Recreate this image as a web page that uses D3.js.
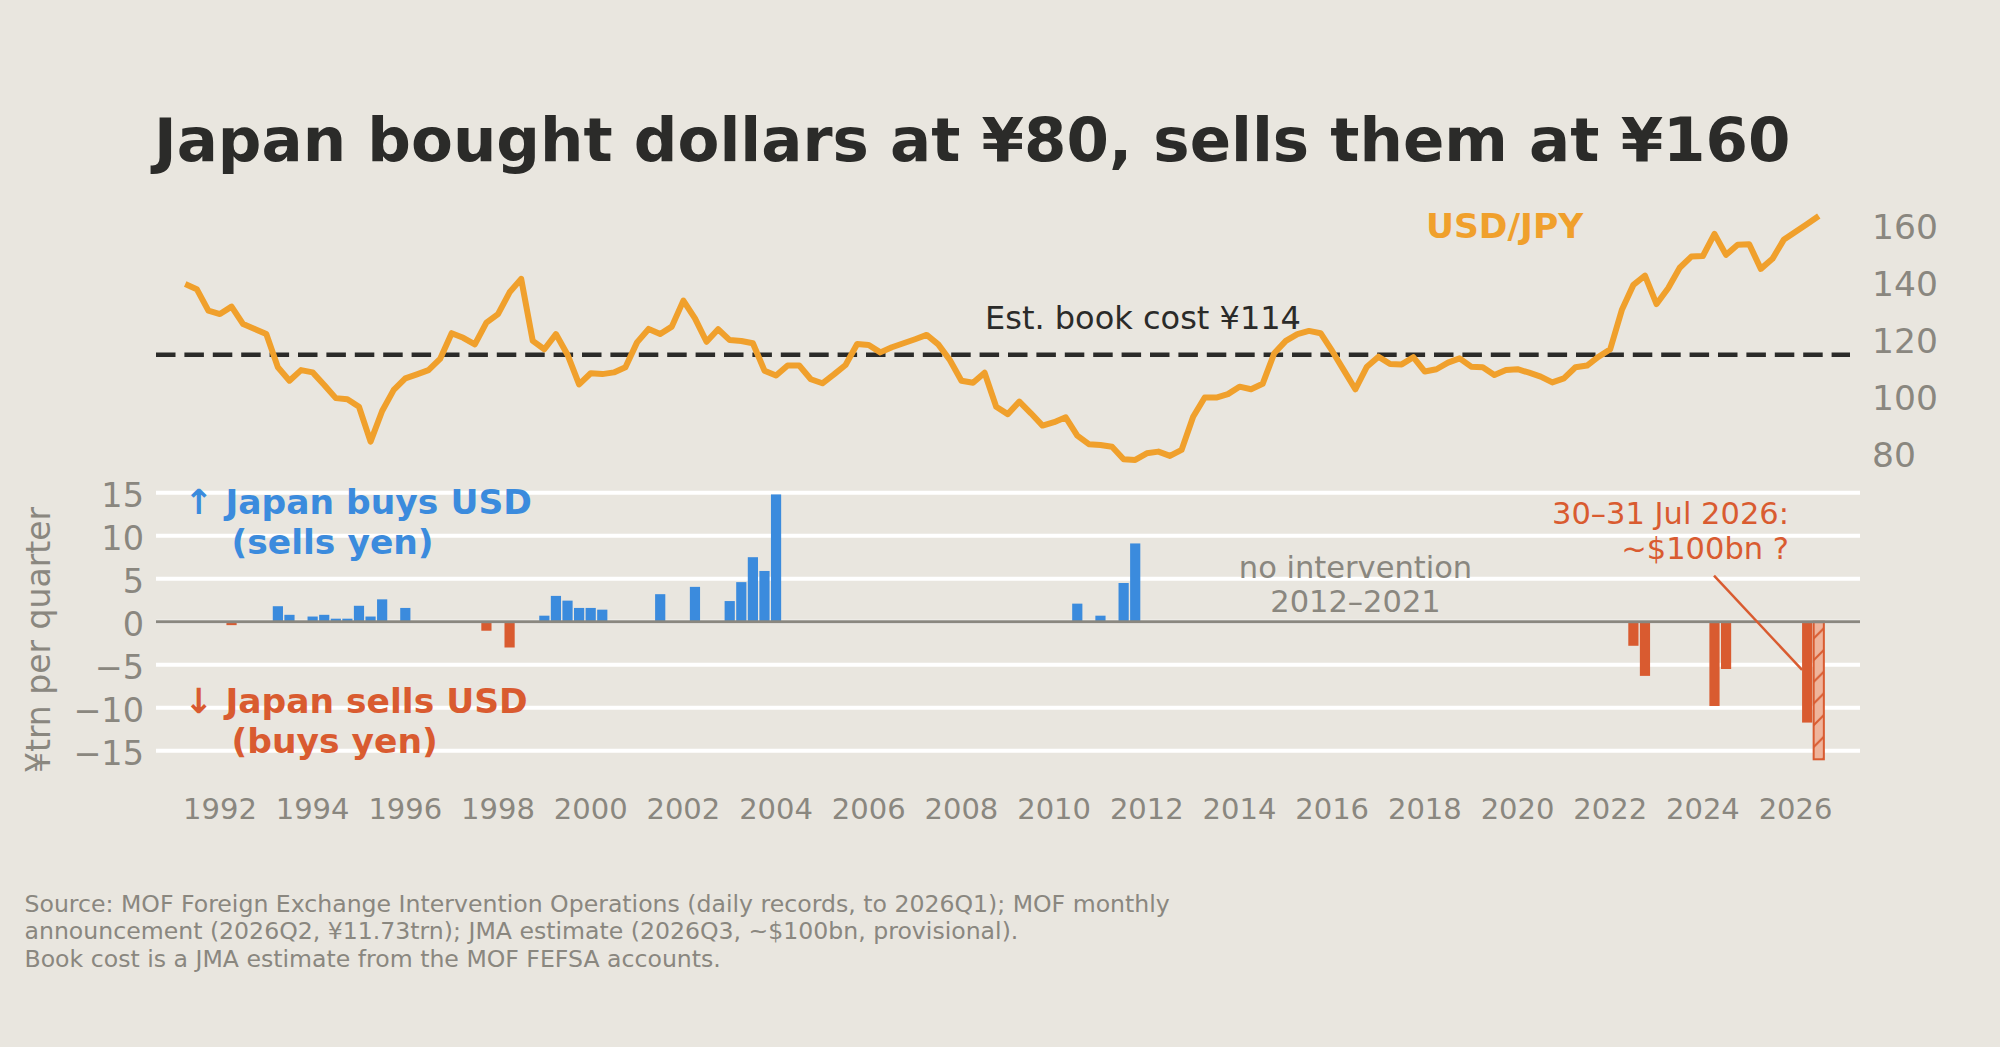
<!DOCTYPE html>
<html>
<head>
<meta charset="utf-8">
<script src="https://cdn.jsdelivr.net/npm/d3@7"></script>
<style>
  body { margin: 0; background: #e9e6df; }
  svg text { font-family: "DejaVu Sans", sans-serif; }
</style>
</head>
<body>
<div class="chart"></div>
<script>
// USD/JPY, quarterly, first point is 1991Q2, last is 2026Q3
const usdjpyFirst = "1991Q2";
const usdjpy = [
  138.7, 136.9, 129.4,
  128.2, 130.8, 124.7, 123.0,
  121.2, 109.6, 104.9, 108.6,
  107.8, 103.4, 98.8, 98.4,
  95.8, 83.6, 94.3, 101.7,
  105.7, 107.1, 108.6, 112.5,
  121.5, 119.9, 117.6, 125.2,
  128.2, 135.8, 140.5, 118.8,
  115.9, 121.2, 114.0, 103.6,
  107.5, 107.2, 107.8, 109.6,
  118.3, 123.0, 121.2, 123.8,
  132.9, 126.7, 118.5, 122.9,
  119.1, 118.8, 118.0, 108.4,
  106.7, 110.2, 110.2, 105.4,
  104.0, 107.1, 110.4, 117.7,
  117.4, 114.8, 116.6, 118.0,
  119.4, 120.9, 117.6, 112.1,
  104.9, 104.2, 107.7, 95.8,
  93.2, 97.6, 93.5, 89.2,
  90.4, 92.1, 85.7, 82.7,
  82.4, 81.8, 77.4, 77.2,
  79.5, 80.1, 78.6, 80.7,
  92.3, 99.0, 99.0, 100.2,
  102.8, 101.9, 103.8, 114.5,
  118.8, 121.2, 122.3, 121.5,
  115.3, 108.6, 101.9, 109.8,
  113.3, 110.7, 110.6, 113.1,
  108.1, 108.9, 111.2, 112.7,
  109.8, 109.6, 106.9, 108.6,
  108.9, 107.7, 106.3, 104.3,
  105.7, 109.6, 110.2, 113.3,
  115.9, 129.6, 138.4, 141.6,
  131.7, 137.2, 144.4, 148.3,
  148.5, 156.2, 148.9, 152.4,
  152.6, 144.0, 147.5, 154.3,
  157.0, 159.7, 162.5
];

// MOF intervention, ¥trn per quarter (+ = buys USD, - = sells USD)
const interventionQuarters = [
  "1992Q2", "1993Q2", "1993Q3", "1994Q1", "1994Q2", "1994Q3", "1994Q4",
  "1995Q1", "1995Q2", "1995Q3", "1996Q1", "1997Q4", "1998Q2",
  "1999Q1", "1999Q2", "1999Q3", "1999Q4", "2000Q1", "2000Q2",
  "2001Q3", "2002Q2", "2003Q1", "2003Q2", "2003Q3", "2003Q4", "2004Q1",
  "2010Q3", "2011Q1", "2011Q3", "2011Q4",
  "2022Q3", "2022Q4", "2024Q2", "2024Q3", "2026Q2", "2026Q3"
];
const interventionValues = [
  -0.4, 1.8, 0.8, 0.6, 0.8, 0.35, 0.35,
  1.85, 0.6, 2.6, 1.6, -1.05, -3.0,
  0.7, 3.0, 2.45, 1.6, 1.6, 1.4,
  3.2, 4.05, 2.4, 4.6, 7.5, 5.9, 14.8,
  2.1, 0.7, 4.5, 9.1,
  -2.8, -6.3, -9.8, -5.5, -11.73, -16.0
];
const provisionalQuarter = "2026Q3";

const bookCost = 114;
const fxTicks = [80, 100, 120, 140, 160];
const flowTicks = [-15, -10, -5, 0, 5, 10, 15];
const yearTicks = [1992, 1994, 1996, 1998, 2000, 2002, 2004, 2006, 2008,
                   2010, 2012, 2014, 2016, 2018, 2020, 2022, 2024, 2026];

const colors = {
  bg: "#e9e6df",
  ink: "#2b2b29",
  grey: "#8a877f",
  fx: "#f0a02c",
  buy: "#3b8bdd",
  sell: "#d95b30",
  sellLight: "#efb49b"
};

var cfg = {
  width: 2000,
  height: 1047,
  left: 156,
  right: 1860
};

var scale = {
  x: d3.scaleLinear().domain([1990.62, 2027.39]).range([cfg.left, cfg.right]),
  fx: d3.scaleLinear().domain([80, 160]).range([451.9, 223.1]),
  flow: d3.scaleLinear().domain([-15, 15]).range([750.7, 492.7])
};

function quarterToYear(q) {
  return +q.slice(0, 4) + (+q.slice(5) - 1) / 4;
}

function multiline(g, lines, x, y, lh) {
  var t = g.append("text").attr("x", x).attr("y", y);
  lines.forEach(function(l, i) {
    t.append("tspan").attr("x", l.x !== undefined ? l.x : x).attr("y", y + i * lh).text(l.text);
  });
  return t;
}

function initTitle(svg) {
  svg.append("text")
    .attr("x", 154)
    .attr("y", 161)
    .attr("fill", colors.ink)
    .style("font-size", "61px")
    .style("font-weight", "bold")
    .text("Japan bought dollars at ¥80, sells them at ¥160");
}

function initFxPanel(svg) {
  var g = svg.append("g").attr("id", "fx-panel");
  var t0 = quarterToYear(usdjpyFirst);

  // book cost reference
  g.append("line")
    .attr("x1", cfg.left)
    .attr("x2", 1850)
    .attr("y1", scale.fx(bookCost))
    .attr("y2", scale.fx(bookCost))
    .attr("stroke", colors.ink)
    .attr("stroke-width", 4.5)
    .attr("stroke-dasharray", "19.5,8.9");

  g.append("text")
    .attr("x", 985)
    .attr("y", 328.5)
    .attr("fill", colors.ink)
    .style("font-size", "32px")
    .text("Est. book cost ¥" + bookCost);

  var line = d3.line()
    .x((d, i) => scale.x(t0 + i / 4))
    .y(d => scale.fx(d));

  g.append("path")
    .datum(usdjpy)
    .attr("d", line)
    .attr("fill", "none")
    .attr("stroke", colors.fx)
    .attr("stroke-width", 6)
    .attr("stroke-linejoin", "round");

  g.append("text")
    .attr("x", 1426)
    .attr("y", 237.5)
    .attr("fill", colors.fx)
    .style("font-size", "34.5px")
    .style("font-weight", "bold")
    .text("USD/JPY");

  // right axis labels
  g.selectAll("text.fx-tick")
    .data(fxTicks)
    .enter().append("text")
    .attr("class", "fx-tick")
    .attr("x", 1872)
    .attr("y", d => scale.fx(d) + 3 + 0.3645 * 34.5)
    .attr("fill", colors.grey)
    .style("font-size", "34.5px")
    .text(d => d);
}

function initFlowPanel(svg) {
  var g = svg.append("g").attr("id", "flow-panel");

  // hatch for the provisional quarter
  var defs = svg.append("defs");
  var pat = defs.append("pattern")
    .attr("id", "hatch")
    .attr("patternUnits", "userSpaceOnUse")
    .attr("width", 21.7)
    .attr("height", 21.7);
  pat.append("rect").attr("width", 21.7).attr("height", 21.7).attr("fill", colors.sellLight);
  pat.append("path")
    .attr("d", "M0,21.7 L21.7,0 M-5,5 L5,-5 M16.7,26.7 L26.7,16.7")
    .attr("stroke", colors.sell)
    .attr("stroke-width", 2);

  // grid
  g.selectAll("line.grid")
    .data(flowTicks)
    .enter().append("line")
    .attr("class", "grid")
    .attr("x1", cfg.left)
    .attr("x2", cfg.right)
    .attr("y1", d => scale.flow(d))
    .attr("y2", d => scale.flow(d))
    .attr("stroke", "#ffffff")
    .attr("stroke-width", 4);

  var data = interventionQuarters.map((q, i) => ({q: q, t: quarterToYear(q), v: interventionValues[i]}));
  var bw = scale.x(0.22) - scale.x(0);

  g.selectAll("rect.bar")
    .data(data)
    .enter().append("rect")
    .attr("class", "bar")
    .attr("x", d => scale.x(d.t) - bw / 2)
    .attr("width", bw)
    .attr("y", d => scale.flow(Math.max(0, d.v)))
    .attr("height", d => Math.abs(scale.flow(d.v) - scale.flow(0)))
    .attr("fill", d => d.q === provisionalQuarter ? "url(#hatch)" : (d.v > 0 ? colors.buy : colors.sell))
    .attr("stroke", d => d.q === provisionalQuarter ? colors.sell : "none")
    .attr("stroke-width", 2);

  // zero line
  g.append("line")
    .attr("x1", cfg.left)
    .attr("x2", cfg.right)
    .attr("y1", scale.flow(0))
    .attr("y2", scale.flow(0))
    .attr("stroke", colors.grey)
    .attr("stroke-width", 3);

  // left axis labels
  g.selectAll("text.flow-tick")
    .data(flowTicks)
    .enter().append("text")
    .attr("class", "flow-tick")
    .attr("x", 144)
    .attr("y", d => scale.flow(d) + 2.5 + 0.3645 * 33.5)
    .attr("text-anchor", "end")
    .attr("fill", colors.grey)
    .style("font-size", "33.5px")
    .text(d => d < 0 ? "\u2212" + Math.abs(d) : d);

  // year labels
  g.selectAll("text.year")
    .data(yearTicks)
    .enter().append("text")
    .attr("class", "year")
    .attr("x", d => scale.x(d))
    .attr("y", 818.5)
    .attr("text-anchor", "middle")
    .attr("fill", colors.grey)
    .style("font-size", "29px")
    .text(d => d);

  // axis title
  g.append("text")
    .attr("transform", "translate(50,640) rotate(-90)")
    .attr("text-anchor", "middle")
    .attr("fill", colors.grey)
    .style("font-size", "33px")
    .text("¥trn per quarter");

  // direction labels
  var buy = multiline(g, [{text: "\u2191 Japan buys USD"}, {text: "(sells yen)", x: 231.5}], 184.5, 514, 40);
  buy.attr("fill", colors.buy).style("font-size", "34.5px").style("font-weight", "bold");
  var sell = multiline(g, [{text: "\u2193 Japan sells USD"}, {text: "(buys yen)", x: 231.5}], 184.5, 712.5, 40);
  sell.attr("fill", colors.sell).style("font-size", "34.5px").style("font-weight", "bold");

  var gap = multiline(g, [{text: "no intervention"}, {text: "2012\u20132021"}], 1355.5, 577.5, 34.4);
  gap.attr("fill", colors.grey).attr("text-anchor", "middle").style("font-size", "30.5px");

  var note = multiline(g, [{text: "30\u201331 Jul 2026:"}, {text: "~$100bn ?"}], 1789, 524, 34.7);
  note.attr("fill", colors.sell).attr("text-anchor", "end").style("font-size", "30.5px");

  g.append("line")
    .attr("x1", scale.x(2024.24))
    .attr("y1", scale.flow(5.35))
    .attr("x2", scale.x(2026.14))
    .attr("y2", scale.flow(-5.6))
    .attr("stroke", colors.sell)
    .attr("stroke-width", 2.5);
}

function initFooter(svg) {
  var f = multiline(svg, [
    {text: "Source: MOF Foreign Exchange Intervention Operations (daily records, to 2026Q1); MOF monthly"},
    {text: "announcement (2026Q2, ¥11.73trn); JMA estimate (2026Q3, ~$100bn, provisional)."},
    {text: "Book cost is a JMA estimate from the MOF FEFSA accounts."}
  ], 24.5, 911.7, 27.6);
  f.attr("fill", colors.grey).style("font-size", "23.6px");
}

function createViz() {
  var svg = d3.select(".chart").append("svg")
    .attr("width", cfg.width)
    .attr("height", cfg.height)
    .style("display", "block")
    .style("background", colors.bg);

  initTitle(svg);
  initFlowPanel(svg);
  initFxPanel(svg);
  initFooter(svg);
}

createViz();
</script>
</body>
</html>
